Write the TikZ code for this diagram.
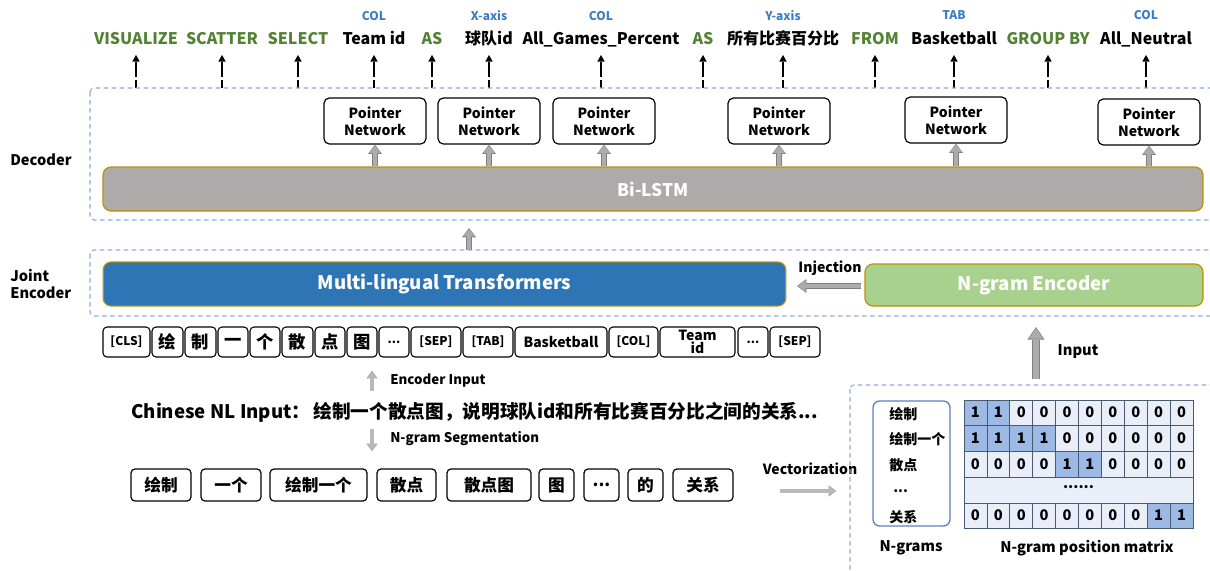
\documentclass[tikz,border=0pt]{standalone}
\usepackage{fontspec}
\setmainfont{Noto Sans CJK SC}
\usetikzlibrary{arrows.meta,calc}
\definecolor{kw}{HTML}{548235}
\definecolor{lbl}{HTML}{3A7DC6}
\definecolor{dashc}{HTML}{8FAADC}
\definecolor{tblue}{HTML}{2E75B6}
\definecolor{ngreen}{HTML}{A9D18E}
\definecolor{lstm}{HTML}{AEAAAA}
\definecolor{gold}{HTML}{BF9000}
\definecolor{cell}{HTML}{E9EEF8}
\definecolor{cellhi}{HTML}{9DB9E6}
\definecolor{gridc}{HTML}{4A5A70}
\definecolor{ngbox}{HTML}{5B7FC0}
\newcommand\myfs[1]{\fontsize{#1}{#1}\selectfont}
\newcommand\tdots{...}
\begin{document}
\begin{tikzpicture}[x=0.75pt,y=-0.75pt,
  toplab/.style={anchor=base, font=\bfseries\myfs{12}, text height=9pt, text depth=3pt, inner sep=1pt},
  axlab/.style={anchor=base, font=\bfseries\myfs{9}, text=lbl, inner sep=1pt},
  toparrow/.style={line width=1.1pt, dash pattern=on 6pt off 2.2pt on 40pt, -{Triangle[length=5pt,width=5.5pt,line width=0pt]}, shorten >=4pt},
  dbox/.style={draw=dashc, line width=0.8pt, dash pattern=on 3.5pt off 2.5pt, rounded corners=3pt},
  ptr/.style={draw, line width=0.9pt, rounded corners=4pt, fill=white, minimum width=76.5pt, minimum height=34.5pt, align=center, font=\bfseries\fontsize{10.5}{12.6}\selectfont, inner sep=1pt},
  bar/.style={draw=gold, line width=0.9pt, rounded corners=6pt, text=white, font=\bfseries\myfs{13}},
  garrow/.style={draw=gray!65, line width=3.2pt, shorten >=0.8pt, -{Triangle[length=5.5pt,width=8.5pt,line width=0pt]},
     preaction={draw=gray, line width=4.6pt, shorten >=0pt, -{Triangle[length=7pt,width=10.5pt,line width=0pt]}}},
  gsmall/.style={draw=gray!55, line width=2.6pt, shorten >=0.6pt, -{Triangle[length=4.5pt,width=7pt,line width=0pt]},
     preaction={draw=gray!85, line width=3.6pt, shorten >=0pt, -{Triangle[length=5.6pt,width=8.5pt,line width=0pt]}}},
  gbig/.style={draw=gray!65, line width=4.6pt, shorten >=0.8pt, -{Triangle[length=8pt,width=11pt,line width=0pt]},
     preaction={draw=gray, line width=6pt, shorten >=0pt, -{Triangle[length=9.5pt,width=13pt,line width=0pt]}}},
  tok/.style={draw, line width=0.8pt, rounded corners=3pt, minimum height=22.5pt, inner sep=0pt, font=\bfseries\myfs{9}},
  tokc/.style={tok, font=\bfseries\myfs{13}},
  seg/.style={draw, line width=0.9pt, rounded corners=3pt, minimum height=24pt, inner sep=0pt, font=\bfseries\myfs{12.5}},
  side/.style={font=\bfseries\fontsize{11}{13}\selectfont, align=left, anchor=west, inner sep=0pt},
  small/.style={font=\bfseries\myfs{10.5}, inner sep=0pt},
]
\useasboundingbox (0,0) rectangle (1210,571);

% ---------- top output labels ----------
\foreach \i/\x/\t/\c in {1/136/VISUALIZE/kw, 2/222/SCATTER/kw, 3/298/SELECT/kw, 4/374/Team id/black,
  5/432/AS/kw, 6/489/球队id/black, 7/601/All\_Games\_Percent/black, 8/703/AS/kw,
  9/783/所有比赛百分比/black, 10/875/FROM/kw, 11/954/Basketball/black, 12/1048/GROUP BY/kw,
  13/1146/All\_Neutral/black}{
  \node[toplab, text=\c] (L\i) at (\x,44) {\t};
  \coordinate (D\i) at (\x,88);
  \draw[toparrow] (D\i) -- (L\i);
}
\node[axlab] (A4) at (374,20) {COL};
\node[axlab] (A6) at (489,20) {X-axis};
\node[axlab] (A7) at (601,20) {COL};
\node[axlab] (A9) at (783,20) {Y-axis};
\node[axlab] (A11) at (954,19) {TAB};
\node[axlab] (A13) at (1146,19) {COL};

% ---------- decoder ----------
\draw[dbox] (90,88) rectangle (1216,220);
\node[side] (dec) at (10,160) {Decoder};
\node[bar, fill=lstm, minimum width=825pt, minimum height=33pt] (lstm) at (653,189) {Bi-LSTM};
\foreach \i/\x/\y in {1/375/121, 2/489/121, 3/604/121, 4/779/121, 5/956/120, 6/1149/122}{
  \node[ptr] (P\i) at (\x,\y) {Pointer\\Network};
  \draw[garrow] (P\i |- lstm.north) -- (P\i.south);
}

% ---------- joint encoder ----------
\draw[dbox] (90,250) rectangle (1216,316);
\node[side] (joint) at (10,284) {Joint\\Encoder};
\node[bar, fill=tblue, minimum width=512pt, minimum height=33pt, font=\bfseries\myfs{14}] (multi) at (444.5,284) {Multi-lingual Transformers};
\node[bar, fill=ngreen, minimum width=253.5pt, minimum height=31.5pt, font=\bfseries\myfs{14}] (ngram) at (1034,285) {N-gram Encoder};
\coordinate (jup1) at (469,250);
\coordinate (jup2) at (469,228);
\draw[garrow] (jup1) -- (jup2);
\coordinate (inj1) at (861,286);
\coordinate (inj2) at (797,286);
\draw[garrow] (inj1) -- (inj2);
\node[small] (injl) at (830,268) {Injection};

% ---------- tokens ----------
\node[tok, minimum width=35.25pt] (t1) at (126.5,342) {[CLS]};
\node[tokc, minimum width=23.25pt] (t2) at (167.5,342) {绘};
\node[tokc, minimum width=23.25pt] (t3) at (200.5,342) {制};
\node[tokc, minimum width=22.5pt] (t4) at (233,342) {一};
\node[tokc, minimum width=22.5pt] (t5) at (265,342) {个};
\node[tokc, minimum width=23.25pt] (t6) at (297.5,342) {散};
\node[tokc, minimum width=22.5pt] (t7) at (330,342) {点};
\node[tokc, minimum width=22.5pt] (t8) at (362,342) {图};
\node[tok, minimum width=22.5pt] (t9) at (394,342) {...};
\node[tok, minimum width=37.5pt] (t10) at (436,342) {[SEP]};
\node[tok, minimum width=37.5pt] (t11) at (488,342) {[TAB]};
\node[tok, minimum width=69pt, font=\bfseries\myfs{10.5}] (t12) at (561,342) {Basketball};
\node[tok, minimum width=36.75pt] (t13) at (633.5,342) {[COL]};
\node[tok, minimum width=56.25pt, align=center, font=\bfseries\fontsize{10.5}{10}\selectfont] (t14) at (697.5,342) {Team\\id};
\node[tok, minimum width=22.5pt] (t15) at (753,342) {...};
\node[tok, minimum width=37.5pt] (t16) at (795,342) {[SEP]};

% ---------- NL input ----------
\node[anchor=west, inner sep=0pt, font=\bfseries\myfs{14}] (nl) at (131,412) {Chinese NL Input：\,绘制一个散点图，说明球队id和所有比赛百分比之间的关系...};
\coordinate (ei1) at (372,391);
\coordinate (ei2) at (372,371);
\draw[gsmall] (ei1) -- (ei2);
\node[small, anchor=west, font=\bfseries\myfs{10}] (eil) at (390,381) {Encoder Input};
\coordinate (ns1) at (372,429);
\coordinate (ns2) at (372,451);
\draw[gsmall] (ns1) -- (ns2);
\node[small, anchor=west, font=\bfseries\myfs{10}] (nsl) at (390,439) {N-gram Segmentation};

% ---------- segmentation ----------
\foreach \i/\l/\r/\t in {1/131/191/绘制, 2/201/261/一个, 3/270/367/绘制一个, 4/377/436/散点, 5/447/531/散点图,
   6/539/574/图, 7/584/619/\tdots, 8/628/663/的, 9/673/733/关系}{
  \node[seg, minimum width={(\r-\l)*0.75pt}] (S\i) at ({(\l+\r)/2},485) {\t};
}
\node[small] (vec) at (810,469) {Vectorization};
\coordinate (v1) at (780,491);
\coordinate (v2) at (836,491);
\draw[gsmall] (v1) -- (v2);

% ---------- bottom right ----------
\draw[dbox] (850,385) rectangle (1216,590);
\coordinate (in1) at (1036,379);
\coordinate (in2) at (1036,327);
\draw[gbig] (in1) -- (in2);
\node[small, font=\bfseries\myfs{11}] (inl) at (1078,352) {Input};

\node[draw=ngbox, line width=1pt, rounded corners=5pt, minimum width=57.75pt, minimum height=93.75pt] (ngbox) at (911.5,463.5) {};
\node[small, anchor=west] (g1) at (889,414) {绘制};
\node[small, anchor=west] (g2) at (889,439) {绘制一个};
\node[small, anchor=west] (g3) at (889,465) {散点};
\node[small, anchor=west] (g4) at (893,491) {\tdots};
\node[small, anchor=west] (g5) at (889,517) {关系};
\node[small, font=\bfseries\myfs{11}] (ngl) at (911,548) {N-grams};
\node[small, font=\bfseries\myfs{11}] (pml) at (1087,548) {N-gram position matrix};

\foreach \r/\ya/\yb/\vals in {1/400/425/{1,1,0,0,0,0,0,0,0,0}, 2/425/451/{1,1,1,1,0,0,0,0,0,0},
   3/451/477/{0,0,0,0,1,1,0,0,0,0}, 5/503/528/{0,0,0,0,0,0,0,0,1,1}}{
  \foreach \v [count=\c] in \vals {
    \pgfmathsetmacro\xa{964+(\c-1)*22.9}
    \pgfmathsetmacro\xb{964+\c*22.9}
    \ifnum\v=1\def\cc{cellhi}\else\def\cc{cell}\fi
    \draw[draw=gridc, fill=\cc, line width=0.6pt] (\xa,\ya) rectangle (\xb,\yb);
    \node[font=\bfseries\myfs{11}, inner sep=0pt] (m\r-\c) at ({(\xa+\xb)/2},{(\ya+\yb)/2}) {\v};
  }
}
\draw[draw=gridc, fill=cell, line width=0.6pt] (964,477) rectangle (1193,503);
\node[font=\bfseries\myfs{11}, inner sep=0pt] (mdots) at (1078.5,487) {\tdots\tdots};
\end{tikzpicture}
\end{document}
